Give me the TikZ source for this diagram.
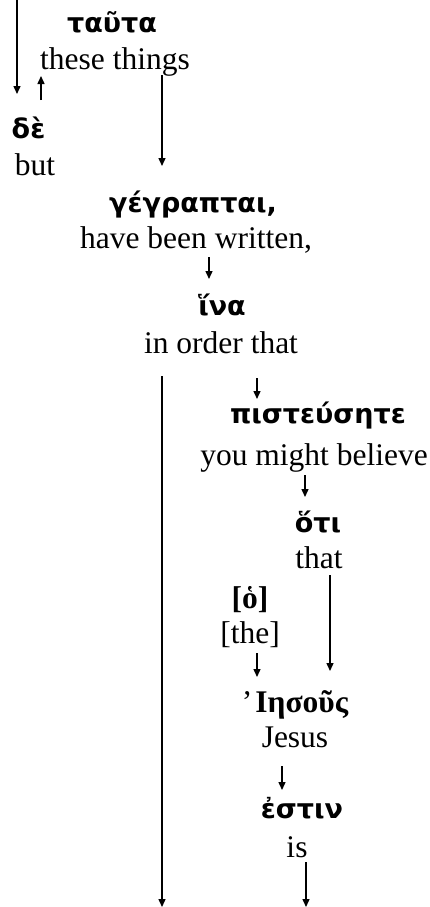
\documentclass[tikz,border=0pt]{standalone}
\usepackage{fontspec}
\setmainfont{Liberation Serif}
\newfontfamily\grk{DejaVu Sans}[Script=Greek]
\newfontfamily\grkserif{Liberation Serif}[Script=Greek]
\usetikzlibrary{arrows.meta}
\tikzset{
  eng/.style={anchor=base, inner sep=0pt, font=\fontsize{31.5}{36}\selectfont},
  gr/.style={anchor=base, inner sep=0pt, font=\grk\bfseries\fontsize{27}{30}\selectfont},
  grs/.style={anchor=base, inner sep=0pt, font=\grkserif\bfseries\fontsize{31.5}{36}\selectfont},
  arr/.style={line width=1.4pt, -{Triangle[length=8pt,width=7pt]}}
}
\begin{document}
\begin{tikzpicture}[x=1pt,y=-1pt]
\fill[white] (0,0) rectangle (430,907);
\useasboundingbox (0,0) rectangle (430,907);
% words
\node[gr]  (tauta)  at (112,33)  {ταῦτα};
\node[eng] (tautaE) at (115,70)  {these things};
\node[gr]  (de)     at (28.5,138){δὲ};
\node[eng] (deE)    at (35,175)  {but};
\node[gr]  (gegr)   at (193,212) {γέγραπται,};
\node[eng] (gegrE)  at (196,248) {have been written,};
\node[gr]  (hina)   at (222,315) {ἵνα};
\node[eng] (hinaE)  at (221,353) {in order that};
\node[gr]  (pist)   at (318,423) {πιστεύσητε};
\node[eng] (pistE)  at (314,465) {you might believe};
\node[gr]  (hoti)   at (318,532) {ὅτι};
\node[eng] (hotiE)  at (319,568) {that};
\node[grs] (ho)     at (250,608) {[ὁ]};
\node[eng] (hoE)    at (250,643) {[the]};
\node[grs] (iesous) at (295,712) {{\mdseries ’}\kern3pt Ιησοῦς};
\node[eng] (iesousE)at (295,747) {Jesus};
\node[gr]  (estin)  at (302,818) {ἐστιν};
\node[eng] (estinE) at (297,857) {is};
% connector end points
\coordinate (top1)  at (17,0);
\coordinate (top1e) at (17,94);
\coordinate (de1)   at (41,100);
\coordinate (de1e)  at (41,76);
\coordinate (th1)   at (162,75);
\coordinate (th1e)  at (162,166);
\coordinate (hw1)   at (209,257);
\coordinate (hw1e)  at (209,279);
\coordinate (io1)   at (162,376);
\coordinate (io1e)  at (162,907);
\coordinate (io2)   at (257,378);
\coordinate (io2e)  at (257,399);
\coordinate (yb1)   at (305,475);
\coordinate (yb1e)  at (305,497);
\coordinate (tt1)   at (330,575);
\coordinate (tt1e)  at (330,671);
\coordinate (the1)  at (257,653);
\coordinate (the1e) at (257,677);
\coordinate (je1)   at (282,766);
\coordinate (je1e)  at (282,790);
\coordinate (is1)   at (306,862);
\coordinate (is1e)  at (306,907);
% connectors
\draw[arr] (top1) -- (top1e);
\draw[arr] (de1) -- (de1e);
\draw[arr] (th1) -- (th1e);
\draw[arr] (hw1) -- (hw1e);
\draw[arr] (io1) -- (io1e);
\draw[arr] (io2) -- (io2e);
\draw[arr] (yb1) -- (yb1e);
\draw[arr] (tt1) -- (tt1e);
\draw[arr] (the1) -- (the1e);
\draw[arr] (je1) -- (je1e);
\draw[arr] (is1) -- (is1e);
\end{tikzpicture}
\end{document}
